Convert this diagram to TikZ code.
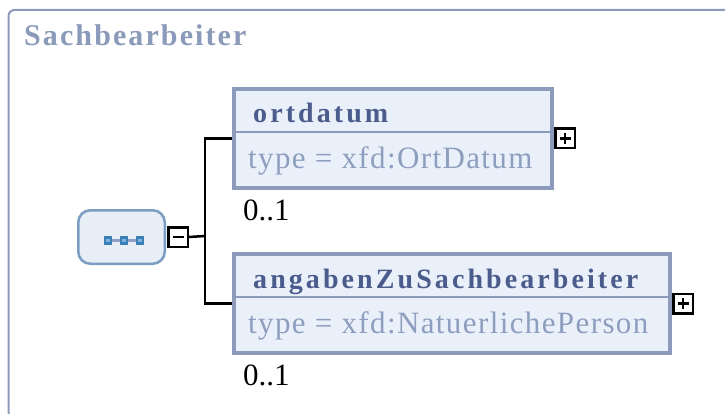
\documentclass[tikz,border=0pt]{standalone}
\usepackage{fontspec}
\setmainfont{Liberation Serif}
\newfontfamily\headfont[LetterSpace=7]{Liberation Serif}
\newfontfamily\spacedfont[LetterSpace=11]{Liberation Serif}
\newfontfamily\typefont[LetterSpace=4.5]{Liberation Serif}
\usetikzlibrary{positioning, calc}
\definecolor{xsframe}{HTML}{8C9BBB}
\definecolor{xstitle}{HTML}{8A9AB9}
\definecolor{xsname}{HTML}{4B5B8B}
\definecolor{xstype}{HTML}{8E9EBE}
\definecolor{xsfill}{HTML}{EAF0FA}
\definecolor{xsseq}{HTML}{7B9DC1}
\definecolor{xsseqfill}{HTML}{E8EEF6}
\definecolor{xsicon}{HTML}{3A80B5}
\definecolor{xsiconin}{HTML}{7FB2DA}
\definecolor{xslink}{HTML}{8E9FC6}

\tikzset{
  frame/.style={draw=xsframe, line width=2pt, rounded corners=6pt},
  heading/.style={font=\headfont\bfseries\fontsize{30}{34}\selectfont, text=xstitle, inner sep=0pt, anchor=base west},
  elembox/.style={draw=xsframe, fill=xsfill, line width=4pt, minimum height=99pt, inner sep=0pt},
  divider/.style={draw=xsframe, line width=2pt},
  elemname/.style={font=\spacedfont\bfseries\fontsize{28}{32}\selectfont, text=xsname, inner sep=0pt, anchor=base west},
  elemtype/.style={font=\typefont\fontsize{31}{35}\selectfont, text=xstype, inner sep=0pt, anchor=base west},
  occurs/.style={font=\fontsize{31}{35}\selectfont, inner sep=0pt, anchor=base west},
  togglebox/.style={draw=black, fill=white, line width=2.5pt, minimum size=19.5pt, inner sep=0pt},
  seqbox/.style={draw=xsseq, fill=xsseqfill, line width=2.5pt, rounded corners=12pt, minimum width=86.5pt, minimum height=53.5pt, inner sep=0pt},
  conn/.style={draw=black, line width=2.5pt}
}

\begin{document}
\begin{tikzpicture}[x=1pt, y=-1pt]
  \useasboundingbox (0,0) rectangle (725,414);
  \draw[frame] (8.5,10) rectangle (760,460);
  \node[heading] (title) at (24,46) {Sachbearbeiter};

  % sequence compositor
  \node[seqbox] (seq) at (121.5,237) {};
  \foreach \i in {-1,0,1}{
    \fill[xsicon] ($(seq.center)+(16*\i-2,-1)$) rectangle +(8.5,8.5);
    \fill[xsiconin] ($(seq.center)+(16*\i+0.5,1.5)$) rectangle +(3.5,3.5);
  }
  \foreach \i in {-1,0}{
    \draw[xslink, line width=3pt] ($(seq.center)+(16*\i+6.5,3.25)$) -- +(7.5,0);
  }
  \node[togglebox, right=1pt of seq] (seqminus) {};
  \draw[line width=2.5pt] ($(seqminus.center)+(-5.5,0)$) -- ($(seqminus.center)+(5.5,0)$);

  % child elements
  \node[elembox, minimum width=318pt] (ortdatum) at (393,138.5) {};
  \draw[divider] ($(ortdatum.west)+(3,-6.5)$) -- ($(ortdatum.east)+(-3,-6.5)$);
  \node[elemname] (ortname) at (253,123) {ortdatum};
  \node[elemtype] (orttype) at (248,169) {type = xfd:OrtDatum};
  \node[occurs] (ortocc) at (243,220) {0..1};
  \node[togglebox, right=0pt of ortdatum] (ortplus) {};

  \node[elembox, minimum width=436pt] (angaben) at (452,303.5) {};
  \draw[divider] ($(angaben.west)+(3,-6.5)$) -- ($(angaben.east)+(-3,-6.5)$);
  \node[elemname] (angname) at (253,288) {angabenZuSachbearbeiter};
  \node[elemtype] (angtype) at (248,333) {type = xfd:NatuerlichePerson};
  \node[occurs] (angocc) at (243,385) {0..1};
  \node[togglebox, right=0pt of angaben] (angplus) {};

  \foreach \p in {ortplus, angplus}{
    \draw[line width=2.5pt] ($(\p.center)+(-5.5,0)$) -- ($(\p.center)+(5.5,0)$);
    \draw[line width=2.5pt] ($(\p.center)+(0,-5.5)$) -- ($(\p.center)+(0,5.5)$);
  }

  % connectors
  \coordinate (fork) at (205,236);
  \draw[conn] (seqminus.east) -- (fork);
  \draw[conn] (ortdatum.west) -| (fork) |- (angaben.west);
\end{tikzpicture}
\end{document}
